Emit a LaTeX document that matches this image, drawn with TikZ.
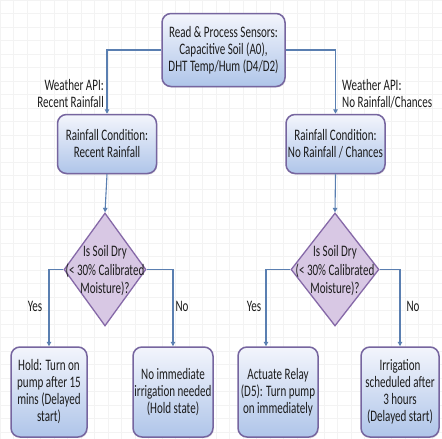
\documentclass[tikz,border=0pt]{standalone}
\usepackage{fontspec}
\setmainfont[FakeStretch=0.69]{Carlito}
\usetikzlibrary{shapes.geometric,arrows.meta,shadows}
\definecolor{boxborder}{HTML}{76659F}
\definecolor{boxtop}{HTML}{F3F5FC}
\definecolor{boxbot}{HTML}{AFC5E9}
\definecolor{diafill}{HTML}{D8C8E4}
\definecolor{diaborder}{HTML}{8669A8}
\definecolor{conncol}{HTML}{5A7FB1}
\definecolor{txt}{HTML}{1C1C1C}
\definecolor{gridcol}{HTML}{F3F3F3}
\newcommand\boxfont{\fontsize{16}{17}\selectfont}
\newcommand\diafont{\fontsize{16}{18.5}\selectfont}
\begin{document}
\begin{tikzpicture}[x=1pt,y=-1pt,
  box/.style={draw=boxborder, line width=1.5pt, rounded corners=9pt,
    top color=boxtop, bottom color=boxbot, align=center, font=\boxfont,
    text=txt, inner sep=0pt,
    drop shadow={opacity=0.18, shadow xshift=0.8pt, shadow yshift=-1.2pt}},
  diam/.style={diamond, draw=diaborder, line width=1.3pt, fill=diafill,
    inner sep=0pt},
  dtext/.style={align=center, font=\diafont, text=txt, inner sep=0pt},
  lbl/.style={font=\boxfont, text=txt, inner sep=0pt},
  conn/.style={draw=conncol, line width=1.1pt, -{Triangle[length=4.5pt,width=4.5pt]}},
]
\useasboundingbox (0,0) rectangle (442,439);
\fill[white] (0,0) rectangle (442,439);
\draw[gridcol, line width=0.4pt, step=13.5pt] (0,0) grid (442,439);

% nodes
\node[box, minimum width=123pt, minimum height=73pt] (top) at (223.5,50)
  {Read \& Process Sensors:\\Capacitive Soil (A0),\\DHT Temp/Hum (D4/D2)};
\node[box, minimum width=99pt, minimum height=59pt] (l1) at (107,144)
  {Rainfall Condition:\\Recent Rainfall};
\node[box, minimum width=99pt, minimum height=59pt] (r1) at (335.5,144)
  {Rainfall Condition:\\No Rainfall / Chances};

\node[diam, minimum width=82pt, minimum height=113pt] (d1) at (105,269.5) {};
\node[dtext] (d1t) at (105,271) {Is Soil Dry\\(< 30\% Calibrated\\Moisture)?};
\node[diam, minimum width=88pt, minimum height=113pt] (d2) at (335,269.5) {};
\node[dtext] (d2t) at (335,271) {Is Soil Dry\\(< 30\% Calibrated\\Moisture)?};

\node[box, minimum width=76pt, minimum height=90pt] (b1) at (49,392)
  {Hold: Turn on\\pump after 15\\mins (Delayed\\start)};
\node[box, minimum width=80pt, minimum height=90pt] (b2) at (173,392)
  {No immediate\\irrigation needed\\(Hold state)};
\node[box, minimum width=80pt, minimum height=90pt] (b3) at (278,392)
  {Actuate Relay\\(D5): Turn pump\\on immediately};
\node[box, minimum width=78pt, minimum height=90pt] (b4) at (400,392)
  {Irrigation\\scheduled after\\3 hours\\(Delayed start)};

% labels
\node[lbl, anchor=east, align=right] (wl) at (104,94) {Weather API:\\Recent Rainfall};
\node[lbl, anchor=west, align=left] (wr) at (342,94) {Weather API:\\No Rainfall/Chances};
\node[lbl] (y1) at (35,306) {Yes};
\node[lbl] (n1) at (182,306) {No};
\node[lbl] (y2) at (254,306) {Yes};
\node[lbl] (n2) at (413,306) {No};

\coordinate (yesR) at (266,0);

% connectors
\draw[conn] (top.west) -| (l1.north);
\draw[conn] (top.east) -| (r1.north);
\draw[conn] (l1.south) -- (d1.north);
\draw[conn] (r1.south) -- (d2.north);
\draw[conn] (d1.west) -| (b1.north);
\draw[conn] (d1.east) -| (b2.north);
\draw[conn] (d2.west) -| (b3.north -| yesR);
\draw[conn] (d2.east) -| (b4.north);
\end{tikzpicture}
\end{document}
